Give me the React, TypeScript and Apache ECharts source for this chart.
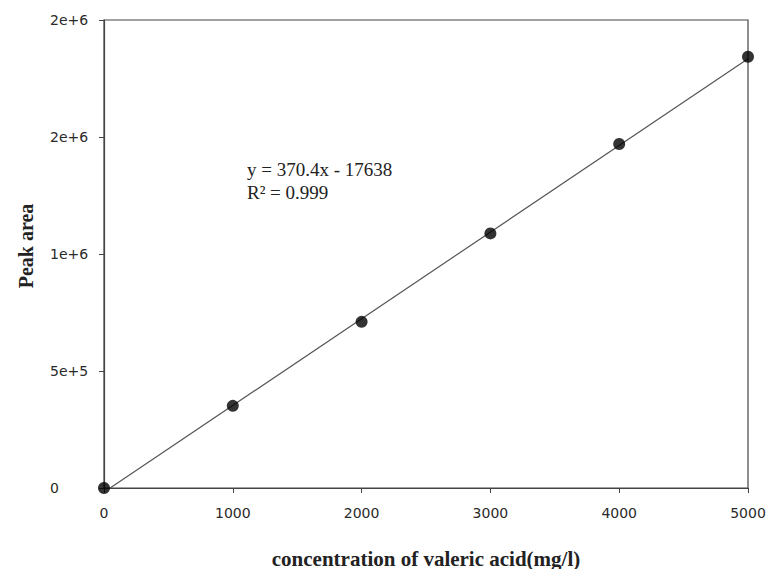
import React, { useEffect, useRef } from "react";
import * as echarts from "echarts";

const concentrations = [0, 1000, 2000, 3000, 4000, 5000];
const peakAreas = [0, 351000, 710000, 1088000, 1470000, 1843000];
const yTickLabels = ["0", "5e+5", "1e+6", "2e+6", "2e+6"];
const xTickLabels = ["0", "1000", "2000", "3000", "4000", "5000"];
const slope = 370.4;
const intercept = -17638;
const equationLines = ["y = 370.4x - 17638", "R² = 0.999"];
const xTitle = "concentration of valeric acid(mg/l)";
const yTitle = "Peak area";

export default function App() {
  const ref = useRef<HTMLDivElement>(null);
  useEffect(() => {
    if (!ref.current) return;
    const chart = echarts.init(ref.current, undefined, { renderer: "svg" });
    const xMin = concentrations[0];
    const xMax = concentrations[concentrations.length - 1];
    const fitLine = [
      [xMin, slope * xMin + intercept],
      [xMax, slope * xMax + intercept],
    ];
    chart.setOption({
      animation: false,
      backgroundColor: "#fff",
      grid: {
        left: 104,
        right: 21,
        top: 20,
        bottom: 81,
        show: true,
        borderColor: "#444",
        borderWidth: 1.2,
        containLabel: false,
        outerBoundsMode: "none",
      },
      xAxis: {
        type: "value",
        min: 0,
        max: 5000,
        interval: 1000,
        name: xTitle,
        nameLocation: "middle",
        nameGap: 60,
        nameTextStyle: { fontFamily: "Liberation Serif", fontWeight: "bold", fontSize: 21, color: "#222" },
        axisLine: { show: true, onZero: false, lineStyle: { color: "#444", width: 1.2 } },
        axisTick: { show: true, inside: false, length: 5, lineStyle: { color: "#444" } },
        axisLabel: {
          margin: 18,
          fontFamily: "DejaVu Sans",
          fontSize: 14,
          color: "#2a2a2a",
          formatter: (v: number) => xTickLabels[Math.round(v / 1000)] ?? "",
        },
        splitLine: { show: false },
      },
      yAxis: {
        type: "value",
        min: 0,
        max: 2000000,
        interval: 500000,
        axisLine: { show: true, lineStyle: { color: "#444", width: 1.2 } },
        axisTick: { show: true, inside: false, length: 5, lineStyle: { color: "#444" } },
        axisLabel: {
          margin: 54,
          align: "left",
          fontFamily: "DejaVu Sans",
          fontSize: 14,
          color: "#2a2a2a",
          formatter: (v: number) => yTickLabels[Math.round(v / 500000)] ?? "",
        },
        splitLine: { show: false },
      },
      series: [
        {
          type: "line",
          data: fitLine,
          showSymbol: false,
          symbol: "none",
          lineStyle: { color: "#555", width: 1.2 },
          silent: true,
          z: 2,
        },
        {
          type: "scatter",
          data: concentrations.map((c, i) => [c, peakAreas[i]]),
          symbol: "circle",
          symbolSize: 12,
          itemStyle: { color: "#000" },
          clip: false,
          z: 3,
        },
      ],
      graphic: [
        {
          type: "text",
          x: 26,
          y: 246,
          rotation: Math.PI / 2,
          style: {
            text: yTitle,
            fontFamily: "Liberation Serif",
            fontWeight: "bold",
            fontSize: 20,
            fill: "#222",
            align: "center",
            verticalAlign: "middle",
          },
        },
        {
          type: "text",
          left: 247,
          top: 158,
          style: {
            text: equationLines.join("\n"),
            fontFamily: "Liberation Serif",
            fontSize: 19,
            lineHeight: 23,
            fill: "#222",
          },
        },
      ],
    });
    return () => chart.dispose();
  }, []);
  return <div ref={ref} style={{ width: 769, height: 569, position: "absolute", left: 0, top: 0 }} />;
}
